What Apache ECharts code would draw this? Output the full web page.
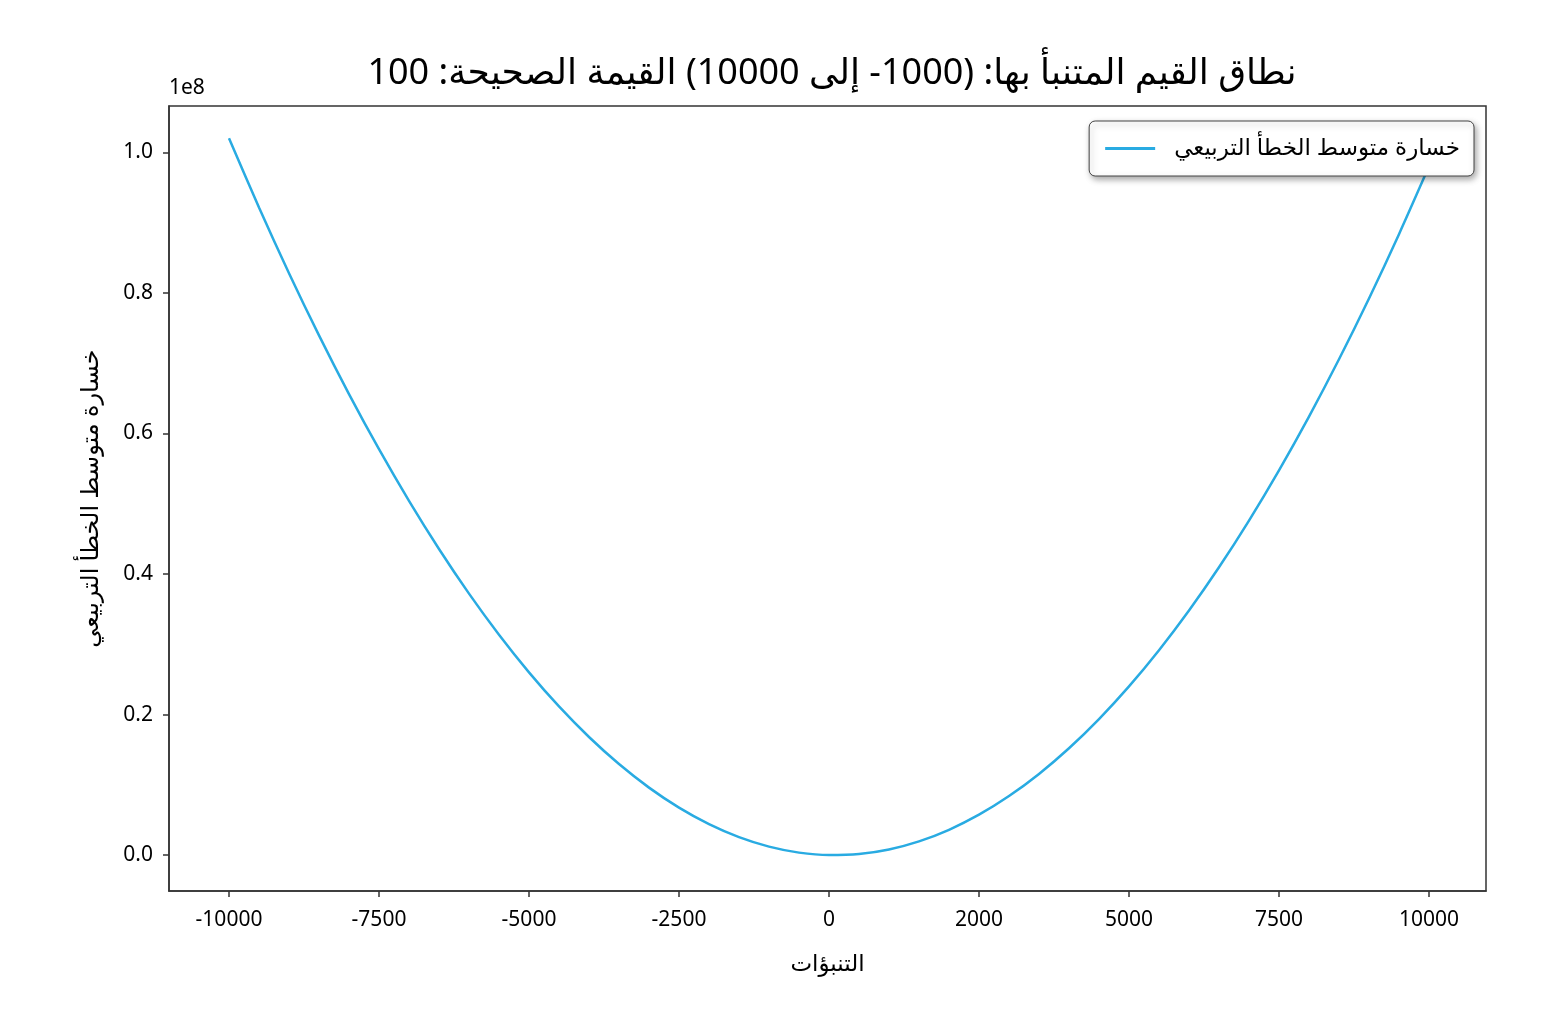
<!DOCTYPE html>
<html>
<head>
<meta charset="utf-8">
<script src="https://cdn.jsdelivr.net/npm/echarts@6/dist/echarts.min.js"></script>
<style>
    html, body {margin: 0; padding: 0; background: #fff;}
    #main {width: 1560px; height: 1036px;}
</style>
</head>
<body>
<div id="main"></div>
<script>
// القيم المقروءة من الرسم (المحور الصادي بوحدات 1e8)
var predictions = [-10000, -9500, -9000, -8500, -8000, -7500, -7000, -6500, -6000, -5500,
    -5000, -4500, -4000, -3500, -3000, -2500, -2000, -1500, -1000, -500,
    0, 500, 1000, 1500, 2000, 2500, 3000, 3500, 4000, 4500,
    5000, 5500, 6000, 6500, 7000, 7500, 8000, 8500, 9000, 9500, 10000];
var mseLoss = [1.0201, 0.9216, 0.8281, 0.7396, 0.6561, 0.5776, 0.5041, 0.4356, 0.3721, 0.3136,
    0.2601, 0.2116, 0.1681, 0.1296, 0.0961, 0.0676, 0.0441, 0.0256, 0.0121, 0.0036,
    0.0001, 0.0016, 0.0081, 0.0196, 0.0361, 0.0576, 0.0841, 0.1156, 0.1521, 0.1936,
    0.2401, 0.2916, 0.3481, 0.4096, 0.4761, 0.5476, 0.6241, 0.7056, 0.7921, 0.8836, 0.9801];
var xTicks = [-10000, -7500, -5000, -2500, 0, 2500, 5000, 7500, 10000];
var xTickLabels = ['-10000', '-7500', '-5000', '-2500', '0', '2000', '5000', '7500', '10000'];
var yTicks = [0, 0.2, 0.4, 0.6, 0.8, 1.0];

var RLE = '\u202B', PDF = '\u202C';
var titleText = 'نطاق القيم المتنبأ بها: (1000- إلى 10000) القيمة الصحيحة: 100';
var seriesName = 'خسارة متوسط الخطأ التربيعي';
var xName = 'التنبؤات';
var yName = 'خسارة متوسط الخطأ التربيعي';

var font = '"Noto Sans", "DejaVu Sans", sans-serif';
var axisColor = '#333';

var points = [];
for (var i = 0; i < predictions.length; i++) {
    points.push([predictions[i], mseLoss[i]]);
}

var myChart = echarts.init(document.getElementById('main'));
var option = {
    animation: false,
    backgroundColor: '#fff',
    textStyle: {fontFamily: font},
    title: {
        text: RLE + titleText + PDF,
        left: 827,
        top: 51,
        textAlign: 'center',
        textStyle: {fontSize: 36, fontWeight: 'normal', color: '#000', fontFamily: font}
    },
    grid: {
        left: 169, right: 74, top: 106, bottom: 145,
        show: true,
        borderColor: axisColor,
        borderWidth: 1.5,
        backgroundColor: 'transparent'
    },
    legend: {
        right: 86,
        top: 121,
        data: [{name: seriesName, icon: 'rect'}],
        itemWidth: 50,
        itemHeight: 3,
        itemGap: 10,
        padding: [16, 14, 16, 16],
        backgroundColor: '#fff',
        borderColor: '#444',
        borderWidth: 1,
        borderRadius: 6,
        shadowBlur: 6,
        shadowOffsetX: 2,
        shadowOffsetY: 3,
        shadowColor: 'rgba(0,0,0,0.35)',
        formatter: function (name) {
            return RLE + name + PDF;
        },
        textStyle: {fontSize: 23, color: '#000', fontFamily: font, padding: [0, 0, 0, 14]}
    },
    graphic: [{
        type: 'text',
        left: 169,
        top: 78,
        style: {text: '1e8', fontSize: 21, fill: '#000', fontFamily: font}
    }],
    xAxis: {
        type: 'value',
        min: -11000,
        max: 10950,
        name: RLE + xName + PDF,
        nameLocation: 'middle',
        nameGap: 62,
        nameTextStyle: {fontSize: 23, color: '#000', fontFamily: font},
        splitLine: {show: false},
        axisLine: {show: true, onZero: false, lineStyle: {color: axisColor, width: 1.5}},
        axisTick: {show: true, length: 6, customValues: xTicks, lineStyle: {color: axisColor, width: 1.5}},
        axisLabel: {
            customValues: xTicks,
            fontSize: 21,
            color: '#000',
            margin: 19,
            fontFamily: font,
            formatter: function (v) {
                var k = xTicks.indexOf(v);
                return k >= 0 ? xTickLabels[k] : '';
            }
        }
    },
    yAxis: {
        type: 'value',
        min: -0.051,
        max: 1.066,
        name: RLE + yName + PDF,
        nameLocation: 'middle',
        nameGap: 66,
        nameTextStyle: {fontSize: 24, color: '#000', fontFamily: font, padding: [0, 0, 0, 0]},
        splitLine: {show: false},
        axisLine: {show: true, onZero: false, lineStyle: {color: axisColor, width: 1.5}},
        axisTick: {show: true, length: 6, customValues: yTicks, lineStyle: {color: axisColor, width: 1.5}},
        axisLabel: {
            customValues: yTicks,
            fontSize: 21,
            color: '#000',
            margin: 16,
            fontFamily: font,
            formatter: function (v) {
                return v.toFixed(1);
            }
        }
    },
    series: [{
        name: seriesName,
        type: 'line',
        data: points,
        smooth: 0.3,
        showSymbol: false,
        lineStyle: {color: '#29abe2', width: 2.5},
        itemStyle: {color: '#29abe2'}
    }]
};
myChart.setOption(option, true);
</script>
</body>
</html>
